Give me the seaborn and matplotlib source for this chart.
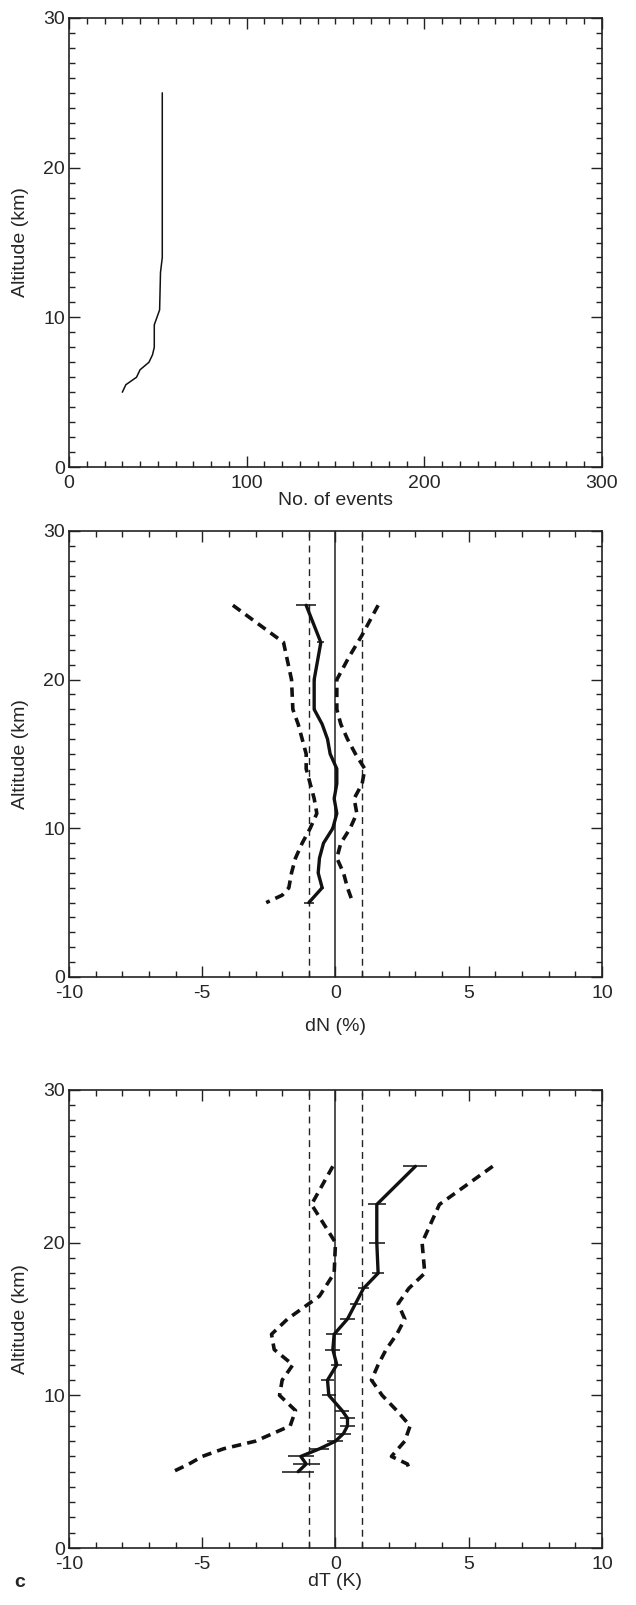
import numpy as np
import pandas as pd
import seaborn as sns
import matplotlib.pyplot as plt
from matplotlib.ticker import MultipleLocator

# panel a: number of events with altitude
n_alt = [5, 5.5, 6, 6.5, 7, 7.5, 8, 9.5, 10.5, 13, 14, 25]
n_events = [30, 32, 38, 40, 45, 47, 48, 48, 51, 51.5, 52.5, 52.5]

# panel b: dN (%)
dn_alt = [25, 22.5, 20, 18, 17, 16, 15, 14, 13, 12, 11, 10, 9, 8, 7, 6, 5]
dn_mean = [-1.1, -0.55, -0.8, -0.8, -0.5, -0.3, -0.2, 0.05, 0.05, -0.05, 0.05, -0.1, -0.45, -0.6, -0.65, -0.5, -1.0]
dn_err = [0.38, 0.13, 0.05, 0.05, 0.05, 0.05, 0.05, 0.06, 0.05, 0.05, 0.05, 0.05, 0.05, 0.05, 0.06, 0.08, 0.18]
dn_lo_alt = [25, 22.5, 20, 18, 17, 16, 15, 14, 13, 12, 11, 10, 9, 8, 7, 6, 5.5, 5]
dn_lo = [-3.85, -1.95, -1.65, -1.6, -1.4, -1.25, -1.1, -1.1, -0.95, -0.8, -0.7, -0.95, -1.25, -1.5, -1.65, -1.75, -2.0, -2.6]
dn_hi_alt = [25, 23, 21.5, 20, 18, 17, 16, 15, 14, 13, 12, 11, 10, 9, 8, 7, 6, 5]
dn_hi = [1.6, 1.0, 0.5, 0.05, 0.05, 0.2, 0.45, 0.75, 1.1, 1.0, 0.7, 0.8, 0.55, 0.2, 0.05, 0.3, 0.45, 0.65]

# panel c: dT (K)
dt_alt = [25, 22.5, 20, 18, 17, 16, 15, 14, 13, 12, 11, 10, 9, 8.5, 8, 7.5, 7, 6.5, 6, 5.5, 5]
dt_mean = [3.0, 1.55, 1.55, 1.6, 1.05, 0.75, 0.45, -0.05, -0.1, 0.05, -0.3, -0.25, 0.25, 0.45, 0.45, 0.3, 0.0, -0.6, -1.3, -1.1, -1.4]
dt_err = [0.45, 0.34, 0.3, 0.23, 0.2, 0.2, 0.28, 0.3, 0.28, 0.2, 0.23, 0.26, 0.25, 0.28, 0.28, 0.28, 0.3, 0.35, 0.5, 0.5, 0.6]
dt_lo_alt = [25, 22.5, 20, 18, 16.5, 16, 15, 14, 13, 12, 11, 10, 9, 8, 7, 6.5, 6, 5.5, 5]
dt_lo = [-0.1, -0.9, 0.0, -0.05, -0.6, -1.0, -1.8, -2.4, -2.3, -1.6, -2.0, -2.1, -1.5, -1.7, -3.0, -4.2, -5.0, -5.5, -6.1]
dt_hi_alt = [25, 22.5, 20, 18, 17, 16, 15, 14, 13, 12, 11, 10, 9, 8, 7, 6, 5.5, 5]
dt_hi = [5.9, 3.9, 3.25, 3.35, 2.75, 2.35, 2.6, 2.3, 1.9, 1.6, 1.35, 1.75, 2.3, 2.8, 2.6, 2.1, 2.7, 2.8]

sns.set_style("ticks")
plt.rcParams["font.family"] = ["Liberation Sans", "DejaVu Sans"]
plt.rcParams["font.size"] = 14
plt.rcParams["axes.unicode_minus"] = False

fig = plt.figure(figsize=(6.36, 16.05), dpi=100)
ax1 = fig.add_axes([0.1085, 0.709, 0.838, 0.2798])
ax2 = fig.add_axes([0.1085, 0.3913, 0.838, 0.2779])
ax3 = fig.add_axes([0.1085, 0.0355, 0.838, 0.2854])


def style_axis(ax, xmin, xmax, xmaj, xmin_step, xlabel, pad):
    ax.set_xlim(xmin, xmax)
    ax.set_ylim(0, 30)
    ax.xaxis.set_major_locator(MultipleLocator(xmaj))
    ax.xaxis.set_minor_locator(MultipleLocator(xmin_step))
    ax.yaxis.set_major_locator(MultipleLocator(10))
    ax.yaxis.set_minor_locator(MultipleLocator(1))
    ax.tick_params(which="both", direction="in", top=True, right=True,
                   color="#222222", labelsize=14)
    ax.tick_params(axis="x", pad=6)
    ax.tick_params(axis="y", pad=3)
    ax.tick_params(which="major", length=8, width=1)
    ax.tick_params(which="minor", length=4.5, width=1)
    for s in ax.spines.values():
        s.set_linewidth(1.2)
        s.set_color("#222222")
    ax.set_xlabel(xlabel, fontsize=14, labelpad=pad)
    ax.set_ylabel("Altitude (km)", fontsize=14, labelpad=10)


# panel a
df_n = pd.DataFrame({"events": n_events, "alt": n_alt})
sns.lineplot(data=df_n, x="events", y="alt", sort=False, estimator=None,
             color="#111111", lw=1.1, ax=ax1)
style_axis(ax1, 0, 300, 100, 10, "No. of events", 0)


def profile(ax, alt, mean, err, lo_alt, lo, hi_alt, hi):
    ax.axvline(0, color="#222222", lw=1.1)
    ax.axvline(-1, color="#222222", lw=1.0, ls=(0, (5, 3.5)))
    ax.axvline(1, color="#222222", lw=1.0, ls=(0, (5, 3.5)))
    sns.lineplot(x=lo, y=lo_alt, sort=False, estimator=None, color="#111111",
                 lw=2.6, ls=(0, (2.6, 1.7)), ax=ax)
    sns.lineplot(x=hi, y=hi_alt, sort=False, estimator=None, color="#111111",
                 lw=2.6, ls=(0, (2.6, 1.7)), ax=ax)
    sns.lineplot(x=mean, y=alt, sort=False, estimator=None, color="#111111",
                 lw=2.4, ax=ax)
    ax.errorbar(mean, alt, xerr=err, fmt="none", ecolor="#111111",
                elinewidth=1.1, capsize=0)


profile(ax2, dn_alt, dn_mean, dn_err, dn_lo_alt, dn_lo, dn_hi_alt, dn_hi)
style_axis(ax2, -10, 10, 5, 1, "dN (%)", 11)

profile(ax3, dt_alt, dt_mean, dt_err, dt_lo_alt, dt_lo, dt_hi_alt, dt_hi)
style_axis(ax3, -10, 10, 5, 1, "dT (K)", 0)

fig.text(0.022, 0.0143, "c", fontsize=14, fontweight="bold", ha="left", va="center")

fig.savefig("out.png", dpi=100)
